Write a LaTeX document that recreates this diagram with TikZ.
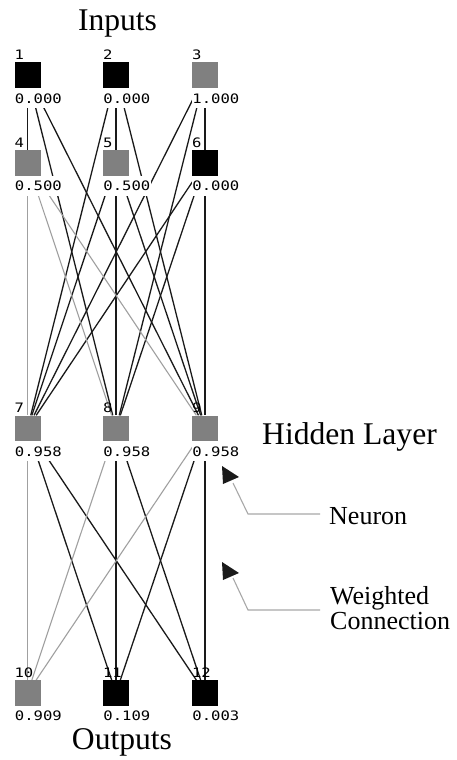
\documentclass[tikz,border=0pt]{standalone}
\usepackage{fontspec}
\usepackage{graphicx}
\usetikzlibrary{backgrounds}
\setmainfont{Liberation Serif}
\newfontfamily\pixfont{DejaVu Sans Mono}
\definecolor{boxgray}{HTML}{808080}
\definecolor{wline}{HTML}{1A1A1A}
\definecolor{lline}{HTML}{A0A0A0}
\definecolor{calline}{HTML}{A8A8A8}
\newcommand{\pixtext}[1]{\scalebox{1.2}[1]{#1}}
\begin{document}
\begin{tikzpicture}[x=1pt,y=-1pt,
 nbox/.style={minimum width=26pt, minimum height=25.5pt, inner sep=0pt, draw=none},
 blkbox/.style={nbox, fill=black},
 grybox/.style={nbox, fill=boxgray},
 idxlbl/.style={font=\pixfont\fontsize{13}{13}\selectfont, inner sep=0pt, anchor=south west},
 vallbl/.style={font=\pixfont\fontsize{13}{13}\selectfont, fill=white, inner xsep=0.4pt, inner ysep=0pt, text height=9.5pt, text depth=0pt, minimum height=20pt, anchor=north west},
 wblack/.style={draw=wline, line width=1.3pt},
 wgray/.style={draw=lline, line width=1.1pt},
 callline/.style={draw=calline, line width=1.1pt},
 tipfill/.style={fill=wline},
 bigtxt/.style={font=\fontsize{31.6}{34}\selectfont, inner sep=0pt},
 smalltxt/.style={font=\fontsize{26}{28}\selectfont, inner sep=0pt},
]
\useasboundingbox (0,0) rectangle (456,760);

% neurons
\node[blkbox] (n1) at (27.5,75.2) {};
\node[blkbox] (n2) at (116,75.2) {};
\node[grybox] (n3) at (205,75.2) {};
\node[grybox] (n4) at (27.5,163) {};
\node[grybox] (n5) at (116,163) {};
\node[blkbox] (n6) at (205,163) {};
\node[grybox] (n7) at (27.5,428.3) {};
\node[grybox] (n8) at (116,428.3) {};
\node[grybox] (n9) at (205,428.3) {};
\node[grybox] (n10) at (27.5,693) {};
\node[blkbox] (n11) at (116,693) {};
\node[blkbox] (n12) at (205,693) {};

% index labels
\foreach \k in {1,...,12} {
  \node[idxlbl] (l\k) at ([yshift=2.5pt]n\k.north west) {\pixtext{\k}};
}

% values
\node[vallbl] (v1) at (n1.south west) {\pixtext{0.000}};
\node[vallbl] (v2) at (n2.south west) {\pixtext{0.000}};
\node[vallbl] (v3) at (n3.south west) {\pixtext{1.000}};
\node[vallbl] (v4) at (n4.south west) {\pixtext{0.500}};
\node[vallbl] (v5) at (n5.south west) {\pixtext{0.500}};
\node[vallbl] (v6) at (n6.south west) {\pixtext{0.000}};
\node[vallbl] (v7) at (n7.south west) {\pixtext{0.958}};
\node[vallbl] (v8) at (n8.south west) {\pixtext{0.958}};
\node[vallbl] (v9) at (n9.south west) {\pixtext{0.958}};
\node[vallbl] (v10) at (n10.south west) {\pixtext{0.909}};
\node[vallbl] (v11) at (n11.south west) {\pixtext{0.109}};
\node[vallbl] (v12) at (n12.south west) {\pixtext{0.003}};

% connections
\begin{pgfonlayer}{background}
\fill[white] (0,0) rectangle (456,760);
\foreach \i in {1,2,3,5,6} \foreach \h in {7,8,9} \draw[wblack] (n\i) -- (n\h);
\foreach \h in {7,8,9} \foreach \o in {11,12} \draw[wblack] (n\h) -- (n\o);
\foreach \h in {7,8,9} \draw[wgray] (n4) -- (n\h);
\foreach \h in {7,8,9} \draw[wgray] (n\h) -- (n10);
\end{pgfonlayer}

% texts
\node[bigtxt, anchor=base] (tin) at (117.5,31) {Inputs};
\node[bigtxt, anchor=base] (tout) at (122,749) {Outputs};
\node[bigtxt, anchor=base west] (thid) at (262,444) {Hidden Layer};
\node[smalltxt, anchor=base west] (tneu) at (329,524) {Neuron};
\node[smalltxt, anchor=base west] (twei) at (330,604) {Weighted};
\node[smalltxt, anchor=base west] (tcon) at (330,629) {Connection};

% callouts
\coordinate (a1) at (320,514);
\coordinate (b1) at (248,514);
\coordinate (c1) at (233,483);
\draw[callline] (a1) -- (b1) -- (c1);
\fill[tipfill] (222,466) -- (239,477) -- (223,484) -- cycle;
\coordinate (a2) at (320,610);
\coordinate (b2) at (248,610);
\coordinate (c2) at (233,578);
\draw[callline] (a2) -- (b2) -- (c2);
\fill[tipfill] (222,562) -- (239,573) -- (223,580) -- cycle;
\end{tikzpicture}
\end{document}
